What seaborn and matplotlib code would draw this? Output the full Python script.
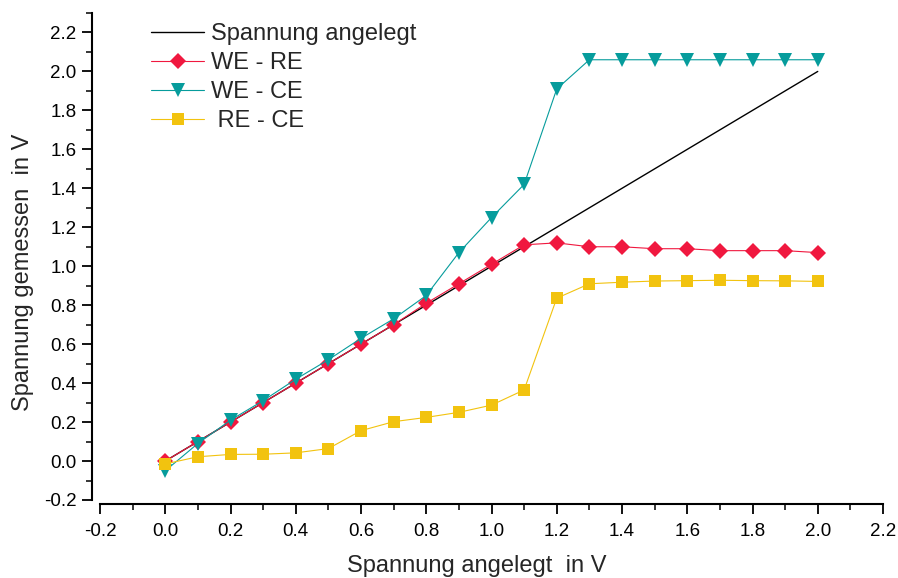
import numpy as np
import pandas as pd
import matplotlib
matplotlib.use("Agg")
import matplotlib.pyplot as plt
import seaborn as sns
from matplotlib.ticker import MultipleLocator

# ---- data ----
x_applied = [0.0, 0.1, 0.2, 0.3, 0.4, 0.5, 0.6, 0.7, 0.8, 0.9, 1.0,
             1.1, 1.2, 1.3, 1.4, 1.5, 1.6, 1.7, 1.8, 1.9, 2.0]
line_x = [0.0, 2.0]
line_y = [0.0, 2.0]
we_re = [0.0, 0.10, 0.20, 0.30, 0.40, 0.50, 0.60, 0.70, 0.81, 0.91, 1.01,
         1.11, 1.12, 1.10, 1.10, 1.09, 1.09, 1.08, 1.08, 1.08, 1.07]
we_ce = [-0.05, 0.09, 0.21, 0.31, 0.42, 0.52, 0.63, 0.73, 0.85, 1.07, 1.25,
         1.42, 1.91, 2.06, 2.06, 2.06, 2.06, 2.06, 2.06, 2.06, 2.06]
re_ce = [-0.015, 0.022, 0.034, 0.035, 0.042, 0.064, 0.156, 0.202, 0.224, 0.25, 0.287,
         0.365, 0.836, 0.91, 0.918, 0.924, 0.926, 0.928, 0.926, 0.925, 0.922]
labels = ["Spannung angelegt", "WE - RE", "WE - CE", " RE - CE"]
xticks = [-0.2, 0.0, 0.2, 0.4, 0.6, 0.8, 1.0, 1.2, 1.4, 1.6, 1.8, 2.0, 2.2]
yticks = [-0.2, 0.0, 0.2, 0.4, 0.6, 0.8, 1.0, 1.2, 1.4, 1.6, 1.8, 2.0, 2.2]
xlabel = "Spannung angelegt  in V"
ylabel = "Spannung gemessen  in V"

sns.set_style("ticks")
plt.rcParams['font.family'] = ['Liberation Sans', 'DejaVu Sans']

W, H = 898, 578
fig = plt.figure(figsize=(W / 100, H / 100), dpi=100)
ax = fig.add_axes([100 / W, (H - 500) / H, (883 - 100) / W, (500 - 13) / H])

red = "#F0183F"
teal = "#069C9C"
yellow = "#F2C30F"

sns.lineplot(x=line_x, y=line_y, ax=ax, color="black", linewidth=1.0,
             label=labels[0])
sns.lineplot(x=x_applied, y=we_re, ax=ax, color=red, linewidth=0.8,
             marker="D", markersize=8.5, markeredgewidth=0, label=labels[1])
sns.lineplot(x=x_applied, y=we_ce, ax=ax, color=teal, linewidth=0.8,
             marker="v", markersize=10.5, markeredgewidth=0, label=labels[2])
sns.lineplot(x=x_applied, y=re_ce, ax=ax, color=yellow, linewidth=0.8,
             marker="s", markersize=8, markeredgewidth=0, label=labels[3])

ax.set_xlim(-0.2, 2.2)
ax.set_ylim(-0.2, 2.3)
ax.set_xticks(xticks)
ax.set_yticks(yticks)
ax.set_xticklabels([f"{v:.1f}" for v in xticks])
ax.set_yticklabels([f"{v:.1f}" for v in yticks])
ax.xaxis.set_minor_locator(MultipleLocator(0.1))
ax.yaxis.set_minor_locator(MultipleLocator(0.1))
ax.spines['top'].set_visible(False)
ax.spines['right'].set_visible(False)
ax.spines['left'].set_position(('outward', 5.8))
ax.spines['bottom'].set_position(('outward', 2.9))
ax.spines['left'].set_bounds(-0.2, 2.3)
for s in ('left', 'bottom'):
    ax.spines[s].set_linewidth(1.5)
    ax.spines[s].set_color('black')
ax.tick_params(which='major', direction='out', length=7, width=1.3,
               labelsize=13.5, colors='black')
ax.tick_params(axis='x', which='major', pad=6.5)
ax.tick_params(axis='y', which='major', pad=4)
ax.tick_params(which='minor', direction='out', length=4, width=1.1, colors='black')

ax.set_xlabel("")
ax.set_ylabel("")
fig.text(476.5 / W, (H - 572) / H, xlabel, fontsize=17, ha='center', va='baseline')
fig.text(23 / W, (H - 272) / H, ylabel, fontsize=17, ha='center', va='center',
         rotation=90)

leg = ax.legend(loc='upper left', bbox_to_anchor=(0.053, 0.999), frameon=False,
                fontsize=17, handlelength=2.25, handletextpad=0.3,
                labelspacing=0.3, borderaxespad=0)

fig.savefig("out.png", dpi=100)
